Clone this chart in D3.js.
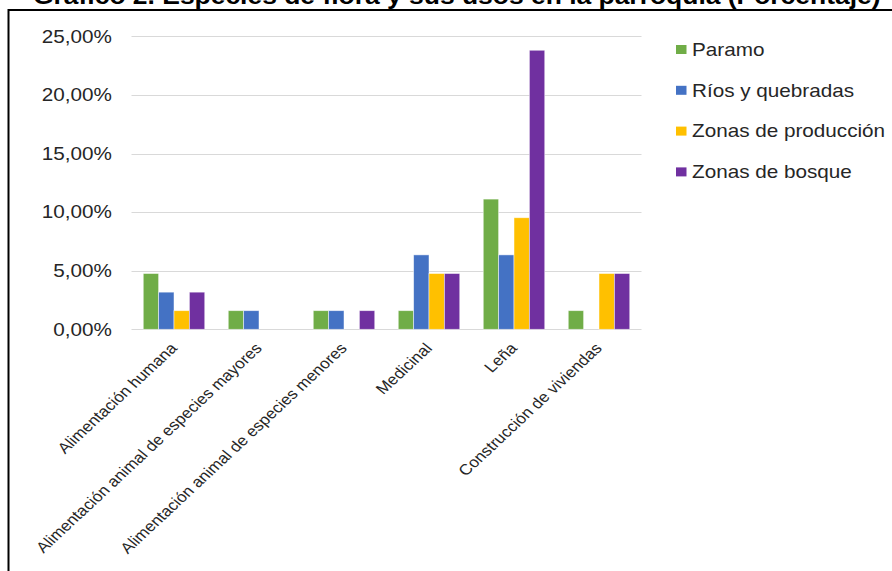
<!DOCTYPE html>
<html>
<head>
<meta charset="utf-8">
<script src="https://cdn.jsdelivr.net/npm/d3@7"></script>
<style>
  html, body { margin: 0; padding: 0; background: #fff; }
  svg { display: block; font-family: "Liberation Sans", Arial, sans-serif; }
</style>
</head>
<body>
<div id="chart"></div>
<script>
// usos de la flora por zona (porcentaje)
var categories = ["Alimentación humana", "Alimentación animal de especies mayores",
  "Alimentación animal de especies menores", "Medicinal", "Leña", "Construcción de viviendas"]
var seriesNames = ["Paramo", "Ríos y quebradas", "Zonas de producción", "Zonas de bosque"]
var paramo = [4.76, 1.59, 1.59, 1.59, 11.11, 1.59]
var rios = [3.17, 1.59, 1.59, 6.35, 6.35, 0]
var produccion = [1.59, 0, 0, 4.76, 9.52, 4.76]
var bosque = [3.17, 0, 1.59, 4.76, 23.81, 4.76]
var yTicks = [0, 5, 10, 15, 20, 25]
var titleText = "Gráfico 2. Especies de flora y sus usos en la parroquia (Porcentaje)"

var colors = ["#70AD47", "#4472C4", "#FFC000", "#7030A0"]
var sx = 1.15   // the picture is stretched sideways a little

var width = 892, height = 571

var svg = d3.select("#chart").append("svg")
  .attr("width", width)
  .attr("height", height)

// frame
svg.append("rect")
  .attr("x", 8.5).attr("y", 10)
  .attr("width", 1000).attr("height", 1000)
  .attr("fill", "none")
  .attr("stroke", "#000")
  .attr("stroke-width", 2)

svg.append("text")
  .attr("transform", "translate(33,4) scale(" + sx + ",1)")
  .attr("font-size", 23)
  .attr("font-weight", "bold")
  .attr("fill", "#000")
  .text(titleText)

var data = categories.map((c, i) => ({
  cat: c,
  values: [paramo[i], rios[i], produccion[i], bosque[i]]
}))

var x0 = d3.scaleBand()
  .domain(categories)
  .range([131.5, 641.5])
  .paddingInner(0)
  .paddingOuter(0)

var x1 = d3.scaleBand()
  .domain(d3.range(seriesNames.length))
  .range([0, 61.5])

var y = d3.scaleLinear()
  .domain([0, 25])
  .range([329.3, 36.3])

// grid
svg.append("g")
  .selectAll("line")
  .data(yTicks)
  .join("line")
    .attr("x1", 131.5)
    .attr("x2", 641.5)
    .attr("y1", d => Math.round(y(d)) + 0.5)
    .attr("y2", d => Math.round(y(d)) + 0.5)
    .attr("stroke", "#d9d9d9")
    .attr("stroke-width", 1.2)

// y labels
svg.append("g")
  .selectAll("text")
  .data(yTicks)
  .join("text")
    .attr("transform", d => "translate(112," + y(d) + ") scale(" + sx + ",1)")
    .attr("text-anchor", "end")
    .attr("dy", "0.35em")
    .attr("font-size", 18)
    .attr("fill", "#262626")
    .text(d => d3.format(".2f")(d).replace(".", ",") + "%")

// bars
var groups = svg.append("g")
  .selectAll("g")
  .data(data)
  .join("g")
    .attr("transform", d => "translate(" + (x0(d.cat) + (x0.bandwidth() - 61.5) / 2) + ",0)")

groups.selectAll("rect")
  .data(d => d.values.map((v, k) => ({k: k, v: v})).filter(e => e.v > 0))
  .join("rect")
    .attr("x", e => x1(e.k))
    .attr("width", x1.bandwidth())
    .attr("y", e => y(e.v))
    .attr("height", e => y(0) - y(e.v))
    .attr("fill", e => colors[e.k])
    .attr("stroke", "#fff")
    .attr("stroke-opacity", 0.6)
    .attr("stroke-width", 0.8)

// category labels
svg.append("g")
  .selectAll("text")
  .data(categories)
  .join("text")
    .attr("transform", d => "translate(" + (x0(d) + x0.bandwidth() / 2 + 4) + ",349) scale(" + sx + ",1) rotate(-47)")
    .attr("text-anchor", "end")
    .attr("font-size", 15)
    .attr("fill", "#262626")
    .text(d => d)

// legend
var legend = svg.append("g")
  .selectAll("g")
  .data(seriesNames)
  .join("g")
    .attr("transform", (d, i) => "translate(676," + (49.5 + i * 40.8) + ")")

legend.append("rect")
  .attr("x", 0).attr("y", -4.5)
  .attr("width", 10.5).attr("height", 9)
  .attr("fill", (d, i) => colors[i])

legend.append("text")
  .attr("transform", "translate(16,0) scale(" + sx + ",1)")
  .attr("dy", "0.35em")
  .attr("font-size", 18)
  .attr("fill", "#262626")
  .text(d => d)
</script>
</body>
</html>
